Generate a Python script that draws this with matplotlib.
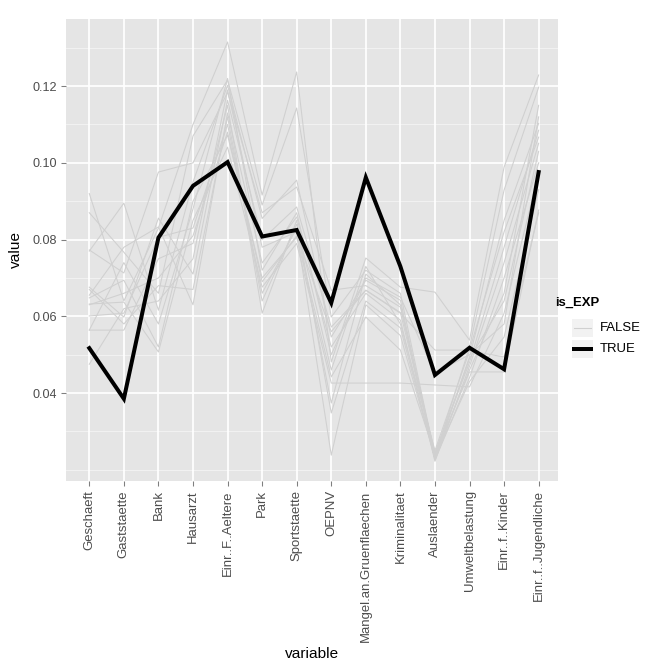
import matplotlib
matplotlib.use("Agg")
import matplotlib.pyplot as plt
from matplotlib.patches import Rectangle
from matplotlib.lines import Line2D

plt.rcParams['font.family'] = ['Liberation Sans', 'DejaVu Sans']

variables = ["Geschaeft", "Gaststaette", "Bank", "Hausarzt", "Einr..F..Aeltere", "Park",
             "Sportstaette", "OEPNV", "Mangel.an.Gruenflaechen", "Kriminalitaet", "Auslaender",
             "Umweltbelastung", "Einr..f..Kinder", "Einr..f..Jugendliche"]

exp_true = [0.0517, 0.0385, 0.0805, 0.0940, 0.1002, 0.0808, 0.0825, 0.0635, 0.0962, 0.0730,
            0.0447, 0.0518, 0.0462, 0.0976]

grey_1 = [0.092, 0.064, 0.083, 0.110, 0.1315, 0.0916, 0.1237, 0.0481, 0.0752, 0.0676, 0.0663, 0.0538, 0.0989, 0.1229]
grey_2 = [0.087, 0.0767, 0.066, 0.107, 0.1216, 0.089, 0.1143, 0.0598, 0.072, 0.066, 0.0235, 0.052, 0.0929, 0.1197]
grey_3 = [0.077, 0.0895, 0.0616, 0.095, 0.1202, 0.0855, 0.0955, 0.0546, 0.0694, 0.0642, 0.0228, 0.0494, 0.085, 0.1103]
grey_4 = [0.0773, 0.0713, 0.0976, 0.100, 0.1184, 0.087, 0.0937, 0.0668, 0.068, 0.0624, 0.0245, 0.048, 0.078, 0.1085]
grey_5 = [0.0676, 0.0598, 0.0856, 0.071, 0.1163, 0.080, 0.0885, 0.0572, 0.0668, 0.0608, 0.0512, 0.0512, 0.082, 0.1067]
grey_6 = [0.0655, 0.078, 0.0833, 0.063, 0.113, 0.0739, 0.0859, 0.052, 0.066, 0.059, 0.0222, 0.047, 0.074, 0.1051]
grey_7 = [0.0648, 0.0694, 0.052, 0.090, 0.1072, 0.070, 0.0806, 0.0442, 0.0598, 0.0512, 0.024, 0.0455, 0.0455, 0.0877]
grey_8 = [0.0632, 0.0637, 0.0507, 0.085, 0.1041, 0.0676, 0.079, 0.0426, 0.0426, 0.0426, 0.0421, 0.0416, 0.0608, 0.0973]
grey_9 = [0.0601, 0.0608, 0.0806, 0.083, 0.110, 0.066, 0.083, 0.0374, 0.071, 0.063, 0.0225, 0.044, 0.070, 0.100]
grey_10 = [0.0564, 0.0564, 0.075, 0.079, 0.115, 0.0608, 0.085, 0.0348, 0.064, 0.057, 0.023, 0.046, 0.066, 0.115]
grey_11 = [0.0475, 0.062, 0.064, 0.075, 0.119, 0.078, 0.082, 0.0238, 0.063, 0.055, 0.0232, 0.043, 0.0546, 0.093]
grey_12 = [0.0564, 0.074, 0.058, 0.088, 0.122, 0.072, 0.087, 0.050, 0.070, 0.065, 0.0452, 0.050, 0.058, 0.112]
grey_13 = [0.063, 0.066, 0.070, 0.081, 0.108, 0.069, 0.081, 0.056, 0.0668, 0.061, 0.024, 0.049, 0.064, 0.103]
grey_14 = [0.067, 0.058, 0.068, 0.067, 0.112, 0.064, 0.084, 0.046, 0.073, 0.058, 0.025, 0.051, 0.0494, 0.087]
grey_lines = [grey_1, grey_2, grey_3, grey_4, grey_5, grey_6, grey_7, grey_8, grey_9, grey_10,
              grey_11, grey_12, grey_13, grey_14]

y_major = [0.04, 0.06, 0.08, 0.10, 0.12]
y_labels = ["0.04", "0.06", "0.08", "0.10", "0.12"]
y_minor = [0.02, 0.03, 0.05, 0.07, 0.09, 0.11, 0.13]

W = H = 672
fig = plt.figure(figsize=(7, 7), dpi=96)
L, R, T, B = 66, 558, 19, 481
ax = fig.add_axes([L / W, 1 - B / H, (R - L) / W, (B - T) / H])
ax.set_facecolor('#E5E5E5')
for s in ax.spines.values():
    s.set_visible(False)

xs = list(range(1, len(variables) + 1))
ax.set_xlim(0.326, 14.56)
ax.set_ylim(0.01707, 0.1375)

for v in y_minor:
    ax.axhline(v, color='#F2F2F2', lw=0.7, zorder=0)
for v in y_major:
    ax.axhline(v, color='white', lw=1.3, zorder=0)
for x in xs:
    ax.axvline(x, color='white', lw=1.3, zorder=0)

for g in grey_lines:
    ax.plot(xs, g, color='#D0D0D0', lw=0.8, zorder=2)
ax.plot(xs, exp_true, color='black', lw=3.0, zorder=3, solid_joinstyle='miter')

ax.set_yticks(y_major)
ax.set_yticklabels(y_labels)
ax.set_xticks(xs)
ax.set_xticklabels(variables, rotation=90)
ax.tick_params(axis='both', colors='#7F7F7F', length=3.5, width=0.8)
ax.tick_params(axis='x', labelsize=9.8)
ax.tick_params(axis='y', labelsize=9.5)
for lab in ax.get_xticklabels() + ax.get_yticklabels():
    lab.set_color('#4D4D4D')
ax.set_xlabel("variable", fontsize=11.5, labelpad=4)
ax.set_ylabel("value", fontsize=11.5, labelpad=7)

# legend
fig.text(555 / W, 1 - 303 / H, "is_EXP", fontsize=9.8, fontweight='bold', va='center', ha='left')
for yc, col, lw, lab in [(328, '#D0D0D0', 0.8, "FALSE"), (349, 'black', 3.0, "TRUE")]:
    fig.add_artist(Rectangle((572 / W, 1 - (yc + 9) / H), 21 / W, 18 / H,
                             transform=fig.transFigure, facecolor='#F2F2F2', edgecolor='none'))
    fig.add_artist(Line2D([574 / W, 591 / W], [1 - yc / H, 1 - yc / H],
                          transform=fig.transFigure, color=col, lw=lw))
    fig.text(600 / W, 1 - yc / H, lab, fontsize=9.8, va='center', ha='left')

fig.savefig("out.png", dpi=96)
